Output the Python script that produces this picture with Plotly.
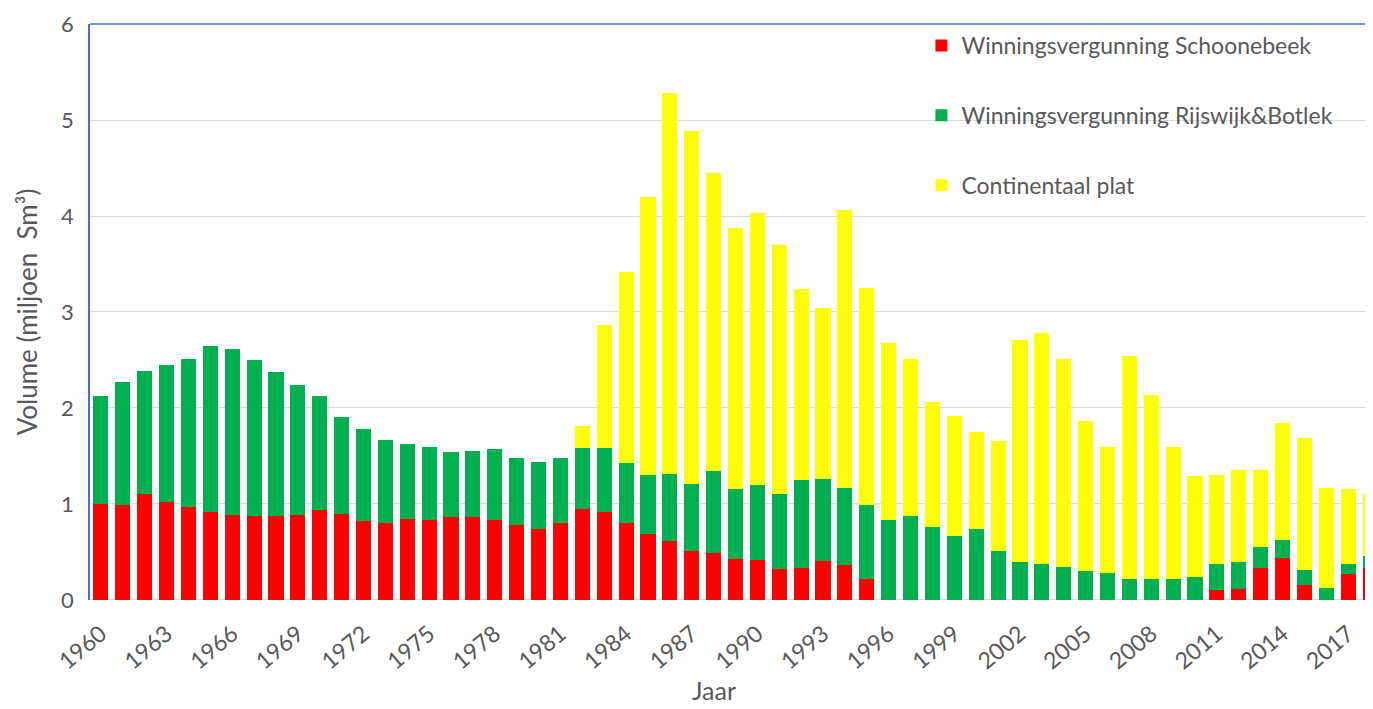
import plotly.graph_objects as go

# Jaarlijkse olieproductie (miljoen Sm3)
years = list(range(1960, 2019))

schoonebeek = [1.00, 0.99, 1.10, 1.02, 0.97, 0.92, 0.89, 0.88, 0.88, 0.89,
               0.94, 0.90, 0.82, 0.80, 0.84, 0.83, 0.86, 0.86, 0.83, 0.78,
               0.74, 0.80, 0.95, 0.92, 0.80, 0.69, 0.61, 0.51, 0.49, 0.43,
               0.42, 0.32, 0.33, 0.41, 0.36, 0.22, 0.00, 0.00, 0.00, 0.00,
               0.00, 0.00, 0.00, 0.00, 0.00, 0.00, 0.00, 0.00, 0.00, 0.00,
               0.00, 0.10, 0.11, 0.33, 0.44, 0.16, 0.00, 0.27, 0.33]

# totaal tot bovenkant groen
green_top = [2.13, 2.27, 2.39, 2.45, 2.51, 2.65, 2.61, 2.50, 2.38, 2.24,
             2.13, 1.91, 1.78, 1.67, 1.63, 1.59, 1.54, 1.55, 1.57, 1.48,
             1.44, 1.48, 1.58, 1.58, 1.43, 1.30, 1.31, 1.21, 1.34, 1.16,
             1.20, 1.10, 1.25, 1.26, 1.17, 0.99, 0.83, 0.87, 0.76, 0.67,
             0.74, 0.51, 0.40, 0.37, 0.34, 0.30, 0.28, 0.22, 0.22, 0.22,
             0.24, 0.37, 0.40, 0.55, 0.63, 0.31, 0.13, 0.37, 0.46]

# totaal tot bovenkant geel
total_top = [2.13, 2.27, 2.39, 2.45, 2.51, 2.65, 2.61, 2.50, 2.38, 2.24,
             2.13, 1.91, 1.78, 1.67, 1.63, 1.59, 1.54, 1.55, 1.57, 1.48,
             1.44, 1.48, 1.81, 2.86, 3.42, 4.20, 5.28, 4.89, 4.45, 3.87,
             4.03, 3.70, 3.24, 3.04, 4.06, 3.25, 2.68, 2.51, 2.06, 1.92,
             1.75, 1.66, 2.71, 2.78, 2.51, 1.86, 1.59, 2.54, 2.14, 1.59,
             1.29, 1.30, 1.35, 1.35, 1.84, 1.69, 1.17, 1.16, 1.10]

rijswijk = [round(g - s, 2) for g, s in zip(green_top, schoonebeek)]
continentaal = [round(t - g, 2) for t, g in zip(total_top, green_top)]

tick_years = list(range(1960, 2019, 3))

FONT = "Lato, Open Sans, sans-serif"
GREY = "#595959"

fig = go.Figure()
fig.add_trace(go.Bar(x=years, y=schoonebeek, name="Winningsvergunning Schoonebeek",
                     marker=dict(color="#FF0000", line=dict(width=0)),
                     legendgroup="a"))
fig.add_trace(go.Bar(x=years, y=rijswijk, name="Winningsvergunning Rijswijk&Botlek",
                     marker=dict(color="#00B050", line=dict(width=0)),
                     legendgroup="b"))
fig.add_trace(go.Bar(x=years, y=continentaal, name="Continentaal plat",
                     marker=dict(color="#FFFF00", line=dict(width=0)),
                     legendgroup="c"))

# pagina heeft 8px body-marge; marges daarop gecorrigeerd.
# x-as iets onder de nullijn zodat de jaartallen lager staan
fig.update_layout(
    width=1373, height=709,
    barmode="stack", bargap=0.31,
    paper_bgcolor="white", plot_bgcolor="white",
    margin=dict(l=82, r=0, t=16, b=102),
    font=dict(family=FONT, color=GREY),
    legend=dict(x=0.644, y=1.0, xanchor="left", yanchor="top",
                traceorder="grouped", tracegroupgap=37,
                font=dict(size=23, color=GREY), bgcolor="rgba(0,0,0,0)"),
    xaxis=dict(range=[1959.5, 2018.5], tickmode="array", tickvals=tick_years,
               ticktext=[str(y) for y in tick_years], tickangle=-40,
               tickfont=dict(size=23, color=GREY), showgrid=False,
               showline=False, ticks="", anchor="free", position=0),
    yaxis=dict(range=[0, 6], dtick=1, domain=[0.0254, 1],
               tickfont=dict(size=22, color=GREY),
               showgrid=True, gridcolor="#D9D9D9", gridwidth=1,
               showline=True, linecolor="#4472C4", linewidth=1.5,
               zeroline=True, zerolinecolor="#D9D9D9", zerolinewidth=1,
               ticks="outside", ticklen=10, tickcolor="white",
               title=dict(text="Volume (miljoen  Sm³)",
                          font=dict(size=26, color=GREY), standoff=16)),
    annotations=[dict(text="Jaar", xref="paper", yref="paper", x=0.483, y=0,
                      xanchor="center", yanchor="middle", yshift=-75,
                      showarrow=False, font=dict(size=25, color=GREY))],
)

# blauwe bovenrand van het plotgebied
fig.add_shape(type="line", xref="paper", yref="paper", x0=0, x1=1, y0=1, y1=1,
              line=dict(color="#4472C4", width=1.5))

fig.write_html("out.html")
